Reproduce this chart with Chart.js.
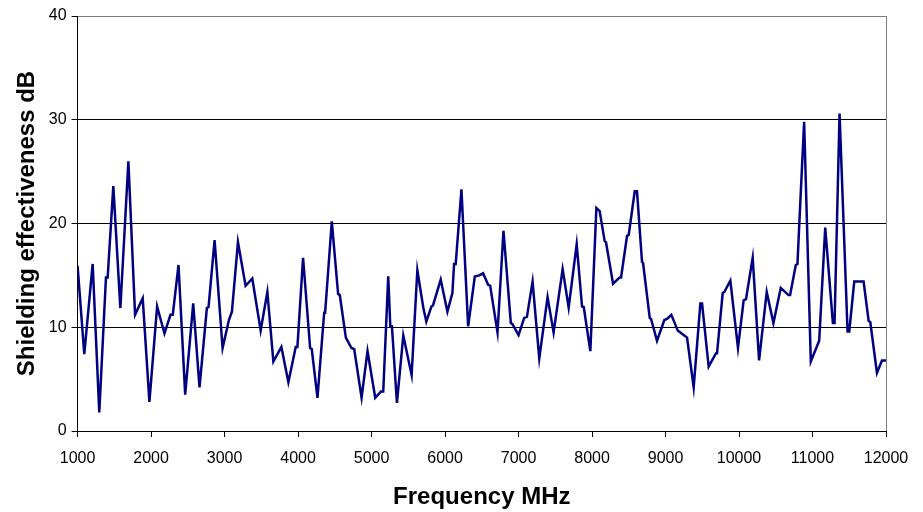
<!DOCTYPE html>
<html>
<head>
<meta charset="utf-8">
<script src="https://cdn.jsdelivr.net/npm/chart.js@4"></script>
<style>
  html, body { margin: 0; padding: 0; background: #fff; }
  #wrap { width: 923px; height: 512px; }
</style>
</head>
<body>
<div id="wrap"><canvas id="c"></canvas></div>
<script>
// frequency (MHz) and shielding effectiveness (dB)
const freq = [1000,1091,1205,1295,1386,1409,1486,1582,1691,1782,1886,1977,2082,2182,2264,2295,2373,2464,2573,2659,
  2759,2782,2864,2973,3059,3100,3182,3286,3377,3491,3582,3664,3773,3868,3968,3991,4068,4164,4186,4264,
  4355,4368,4459,4545,4568,4650,4727,4764,4864,4945,5050,5127,5159,5227,5255,5277,5345,5432,5545,5623,
  5705,5745,5814,5836,5941,6032,6100,6123,6145,6223,6314,6405,6464,6518,6586,6614,6714,6795,6895,6918,
  7000,7077,7114,7191,7282,7395,7477,7600,7682,7791,7864,7887,7977,8059,8104,8172,8190,8286,8376,8395,
  8476,8499,8581,8612,8680,8694,8785,8803,8884,8984,9020,9079,9166,9202,9293,9383,9474,9497,9587,9687,
  9701,9778,9800,9882,9986,10063,10095,10186,10273,10377,10468,10568,10673,10695,10773,10795,10832,10886,10977,11091,
  11173,11277,11300,11368,11477,11500,11568,11695,11764,11786,11877,11945,12000];
const shielding = [15.9,7.4,16.1,1.8,14.8,14.8,23.6,11.85,26.0,11.2,12.8,2.8,12.0,9.4,11.2,11.2,16.0,3.5,12.3,4.2,
  11.85,11.95,18.4,8.0,10.7,11.5,18.2,14.0,14.7,9.7,13.4,6.7,8.1,4.7,8.1,8.1,16.7,8.0,7.9,3.2,
  11.4,11.4,20.2,13.2,13.1,9.0,8.0,7.9,3.2,7.7,3.2,3.8,3.8,14.9,10.1,10.1,2.7,9.2,5.4,15.5,
  11.85,10.55,12.0,12.1,14.6,11.5,13.3,16.1,16.1,23.3,10.1,14.9,15.0,15.2,14.1,14.0,9.5,19.3,10.4,10.3,
  9.25,10.9,11.0,14.4,7.0,12.9,9.5,15.6,11.9,18.0,12.0,11.95,7.7,21.5,21.2,18.3,18.2,14.2,14.8,14.8,
  18.8,18.9,23.1,23.1,16.3,16.2,10.9,10.8,8.7,10.7,10.8,11.2,9.7,9.5,9.0,4.2,12.3,12.3,6.2,7.5,
  7.5,13.3,13.4,14.5,8.0,12.6,12.7,16.7,6.8,13.4,10.4,13.8,13.1,13.1,16.0,16.1,21.75,29.8,6.7,8.7,
  19.6,10.4,10.4,30.6,9.6,9.6,14.4,14.4,10.6,10.5,5.6,6.8,6.8];

const xTitle = "Frequency MHz";
const yTitle = "Shielding effectiveness dB";

const pts = freq.map((f, i) => ({x: f, y: shielding[i]}));

const tickFont = {family: "Liberation Sans", size: 16};
const titleFont = {family: "Liberation Sans", size: 24, weight: "bold"};

new Chart(document.getElementById("c"), {
  type: "scatter",
  data: {
    datasets: [{
      data: pts,
      showLine: true,
      borderColor: "#000080",
      borderWidth: 2.5,
      pointRadius: 0,
      tension: 0
    }]
  },
  options: {
    responsive: true,
    maintainAspectRatio: false,
    animation: false,
    layout: {padding: {left: 13, right: 37, top: 16, bottom: 0}},
    plugins: {legend: {display: false}, tooltip: {enabled: false}},
    scales: {
      x: {
        type: "linear",
        min: 1000, max: 12000,
        ticks: {stepSize: 1000, color: "#000", font: tickFont, padding: 12, maxRotation: 0,
          callback: v => String(v)},
        grid: {
          color: c => c.tick && c.tick.value === 12000 ? "#808080" : "rgba(0,0,0,0)",
          tickColor: "#000", tickLength: 6, drawTicks: true
        },
        border: {color: "#000", width: 1},
        title: {display: true, text: xTitle, color: "#000", font: titleFont, padding: {top: 3, bottom: 0}}
      },
      y: {
        min: 0, max: 40,
        ticks: {stepSize: 10, color: "#000", font: tickFont, padding: 5},
        grid: {
          color: c => c.tick && c.tick.value === 40 ? "#808080" : "#000",
          tickColor: "#000", tickLength: 6
        },
        border: {color: "#000", width: 1},
        title: {display: true, text: yTitle, color: "#000", font: titleFont, padding: {top: 0, bottom: 2}}
      }
    }
  }
});
</script>
</body>
</html>
